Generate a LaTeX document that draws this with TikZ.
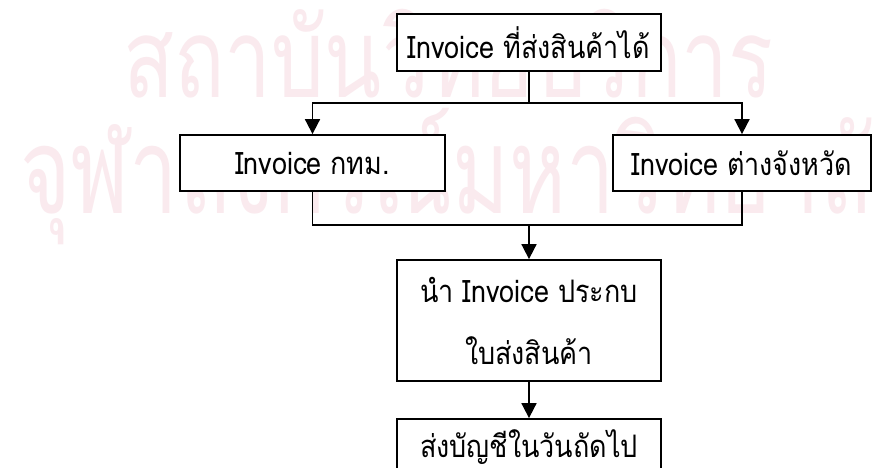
\documentclass[tikz,border=0pt]{standalone}
\usepackage{fontspec}
\setmainfont{Loma}[Script=Thai]
\newfontfamily\thaifont[Script=Thai]{Loma}
\usetikzlibrary{arrows.meta}
\definecolor{wmark}{RGB}{250,234,238}
\newcommand\narrowtxt[1]{\scalebox{0.87}[1]{#1}}
\tikzset{
  box/.style={draw=black, fill=white, line width=1.8pt, inner sep=0pt, align=center,
    font=\thaifont\fontsize{31}{62}\selectfont},
  conn/.style={line width=1.8pt},
  arr/.style={conn, -{Triangle[width=15pt,length=15pt]}},
  wm/.style={text=wmark, inner sep=0pt}
}
\begin{document}
\begin{tikzpicture}[x=1pt,y=-1pt]
\clip (0,0) rectangle (872,468);
\fill[white] (0,0) rectangle (872,468);
% watermark
\node[wm, anchor=base west, font=\thaifont\fontsize{110}{110}\selectfont] (wm1) at (123,98) {\scalebox{0.76}[1]{สถาบันวิทยบริการ}};
\node[wm, anchor=base west, font=\thaifont\fontsize{120}{120}\selectfont] (wm2) at (20,213) {\scalebox{0.72}[1]{จุฬาลงกรณ์มหาวิทยาลัย}};
% boxes
\node[box, minimum width=264pt, minimum height=57pt] (t) at (529,42.5) {\narrowtxt{Invoice ที่ส่งสินค้าได้}};
\node[box, minimum width=265pt, minimum height=56pt] (l) at (312.5,163) {\narrowtxt{Invoice กทม.}};
\node[box, minimum width=258pt, minimum height=56pt] (r) at (742,163) {\narrowtxt{Invoice ต่างจังหวัด}};
\node[box, minimum width=264pt, minimum height=121pt] (m) at (529,320.5) {\raisebox{4pt}{\narrowtxt{นำ Invoice ประกบ}}\\[-4pt]\narrowtxt{ใบส่งสินค้า}};
\node[box, minimum width=264pt, minimum height=57pt] (b) at (529,447.5) {\narrowtxt{ส่งบัญชีในวันถัดไป}};
% connectors
\coordinate (split) at (529,103);
\coordinate (join) at (529,225);
\draw[conn] (t.south) -- (split);
\draw[arr] (split) -| (l.north);
\draw[arr] (split) -| (r.north);
\draw[conn] (l.south) -- (l.south |- join) -- (r.south |- join) -- (r.south);
\draw[arr] (join) -- (m.north);
\draw[arr] (m.south) -- (b.north);
\end{tikzpicture}
\end{document}
